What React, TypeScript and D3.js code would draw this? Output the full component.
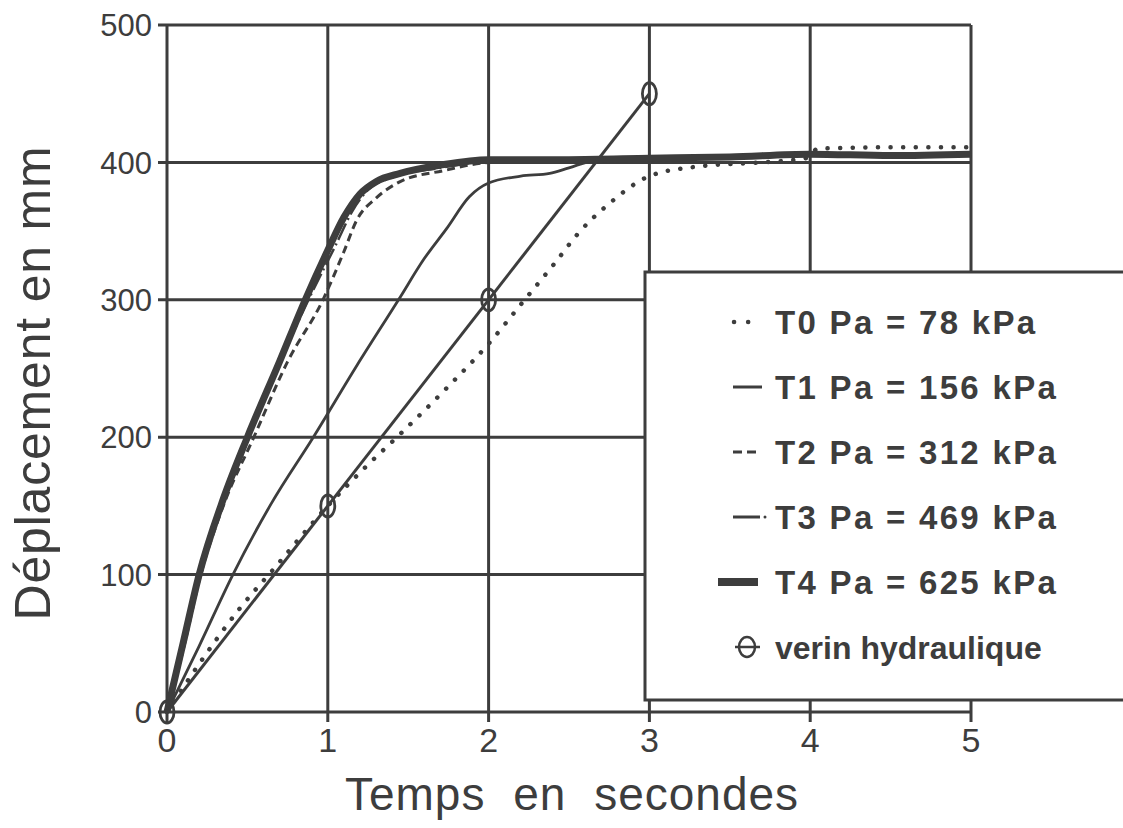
import * as d3 from "d3";

// time (s) / displacement (mm) pairs
const t0Data: [number, number][] = [
  [0, 0], [0.2, 35], [0.45, 75], [0.67, 105], [1, 150], [1.25, 180], [1.43, 200],
  [1.75, 237], [2, 268], [2.21, 298], [2.4, 325], [2.57, 350], [2.75, 370],
  [3, 390], [3.3, 397], [3.7, 400], [3.97, 403], [4.05, 410], [4.5, 411], [5, 411],
];
const t1Data: [number, number][] = [
  [0, 0], [0.2, 48], [0.41, 100], [0.65, 152], [0.91, 200], [1.18, 252],
  [1.44, 300], [1.6, 330], [1.74, 352], [1.88, 375], [2, 385], [2.2, 390],
  [2.38, 392], [2.5, 396], [2.65, 401], [3, 402], [3.5, 404], [4, 405], [5, 405],
];
const t2Data: [number, number][] = [
  [0, 0], [0.1, 45], [0.21, 100], [0.35, 150], [0.54, 200], [0.75, 255],
  [0.97, 300], [1.1, 335], [1.18, 358], [1.3, 374], [1.45, 386], [1.72, 394],
  [2, 400], [2.5, 402], [3, 403], [3.5, 404], [4, 405], [5, 405],
];
const t3Data: [number, number][] = [
  [0, 0], [0.1, 48], [0.2, 97], [0.5, 197], [0.88, 300], [1.05, 340],
  [1.15, 364], [1.25, 380], [1.4, 389], [1.7, 396], [2, 401], [2.5, 402],
  [3, 403], [3.5, 404], [4, 405], [5, 405],
];
const t4Data: [number, number][] = [
  [0, 0], [0.1, 50], [0.2, 100], [0.35, 155], [0.5, 200], [0.7, 255],
  [0.86, 300], [1, 336], [1.1, 360], [1.2, 377], [1.3, 386], [1.45, 392],
  [1.7, 398], [2, 402], [2.5, 402], [3, 403], [3.5, 404], [4, 406], [4.5, 405], [5, 406],
];
const verinData: [number, number][] = [[0, 0], [1, 150], [2, 300], [3, 450]];

const xTicks = [0, 1, 2, 3, 4, 5];
const yTicks = [0, 100, 200, 300, 400, 500];
const legendLabels = [
  "T0 Pa = 78 kPa",
  "T1 Pa = 156 kPa",
  "T2 Pa = 312 kPa",
  "T3 Pa = 469 kPa",
  "T4 Pa = 625 kPa",
  "verin hydraulique",
];

const W = 1123;
const H = 828;
const INK = "#3d3d3d";
const FONT = "'Liberation Sans', Arial, sans-serif";

export default function App() {
  const x = d3.scaleLinear().domain([0, 5]).range([167, 971]);
  const y = d3.scaleLinear().domain([0, 500]).range([712, 25]);

  const smooth = d3
    .line<[number, number]>()
    .x((d) => x(d[0]))
    .y((d) => y(d[1]))
    .curve(d3.curveMonotoneX);
  const straight = d3
    .line<[number, number]>()
    .x((d) => x(d[0]))
    .y((d) => y(d[1]));

  // legend box
  const lx = 645;
  const ly = 272;
  const lb = 700;
  const rowY = (i: number) => 322 + i * 65;

  return (
    <svg
      width={W}
      height={H}
      style={{ position: "absolute", left: 0, top: 0, background: "#fff" }}
    >
      {/* grid + frame */}
      <g stroke={INK} strokeWidth={3} fill="none">
        {xTicks.map((t) => (
          <line key={"gx" + t} x1={x(t)} x2={x(t)} y1={y(500)} y2={y(0) + 10} />
        ))}
        {yTicks.map((t) => (
          <line key={"gy" + t} x1={x(0) - 9} x2={x(5)} y1={y(t)} y2={y(t)} />
        ))}
      </g>

      {/* y tick labels */}
      <g fontFamily={FONT} fontSize={31} fill={INK} textAnchor="end">
        {yTicks.map((t) => (
          <text key={"ly" + t} x={152} y={y(t)} dy="0.36em">
            {t}
          </text>
        ))}
      </g>
      {/* x tick labels */}
      <g fontFamily={FONT} fontSize={34} fill={INK} textAnchor="middle">
        {xTicks.map((t) => (
          <text key={"lx" + t} x={x(t)} y={752}>
            {t}
          </text>
        ))}
      </g>

      {/* axis titles */}
      <text
        x={572}
        y={810}
        textAnchor="middle"
        fontFamily={FONT}
        fontSize={46}
        wordSpacing={14}
        letterSpacing={1}
        fill={INK}
      >
        Temps en secondes
      </text>
      <text
        transform="translate(50,383) rotate(-90)"
        textAnchor="middle"
        fontFamily={FONT}
        fontSize={50}
        letterSpacing={0.8}
        fill={INK}
      >
        Déplacement en mm
      </text>

      {/* series */}
      <g fill="none" stroke={INK} strokeLinejoin="round">
        <path
          d={smooth(t0Data) || ""}
          strokeWidth={4.5}
          strokeDasharray="0.1 12.5"
          strokeLinecap="round"
        />
        <path d={smooth(t1Data) || ""} strokeWidth={2.8} />
        <path d={smooth(t2Data) || ""} strokeWidth={3} strokeDasharray="8 5" />
        <path d={smooth(t3Data) || ""} strokeWidth={2.5} strokeDasharray="18 4 2 4" />
        <path d={smooth(t4Data) || ""} strokeWidth={7} />
        <path d={straight(verinData) || ""} strokeWidth={3} />
        {verinData.map((d, i) => (
          <ellipse
            key={"m" + i}
            cx={x(d[0])}
            cy={y(d[1])}
            rx={7}
            ry={11}
            strokeWidth={2.8}
          />
        ))}
      </g>

      {/* legend */}
      <rect
        x={lx}
        y={ly}
        width={W - lx + 10}
        height={lb - ly}
        fill="#fff"
        stroke={INK}
        strokeWidth={3}
      />
      <g stroke={INK} fill="none">
        <path
          d={`M734,${rowY(0)}H749`}
          strokeWidth={4.5}
          strokeDasharray="0.1 14"
          strokeLinecap="round"
        />
        <path d={`M733,${rowY(1)}H762`} strokeWidth={3} />
        <path d={`M733,${rowY(2)}H757`} strokeWidth={3} strokeDasharray="9 5" />
        <path d={`M733,${rowY(3)}H760`} strokeWidth={3} />
        <circle cx={765} cy={rowY(3)} r={1.5} fill={INK} stroke="none" />
        <path d={`M718,${rowY(4)}H758`} strokeWidth={8} />
        <path d={`M735,${rowY(5)}H760`} strokeWidth={2.5} />
        <ellipse cx={747} cy={rowY(5)} rx={8} ry={10} strokeWidth={2.5} />
      </g>
      <g fontFamily={FONT} fontWeight="bold" fill={INK}>
        {legendLabels.map((s, i) => (
          <text
            key={s}
            x={775}
            y={rowY(i)}
            dy="0.36em"
            fontSize={i === 5 ? 32 : 33}
            letterSpacing={i === 5 ? 0 : 2.3}
          >
            {s}
          </text>
        ))}
      </g>
    </svg>
  );
}
